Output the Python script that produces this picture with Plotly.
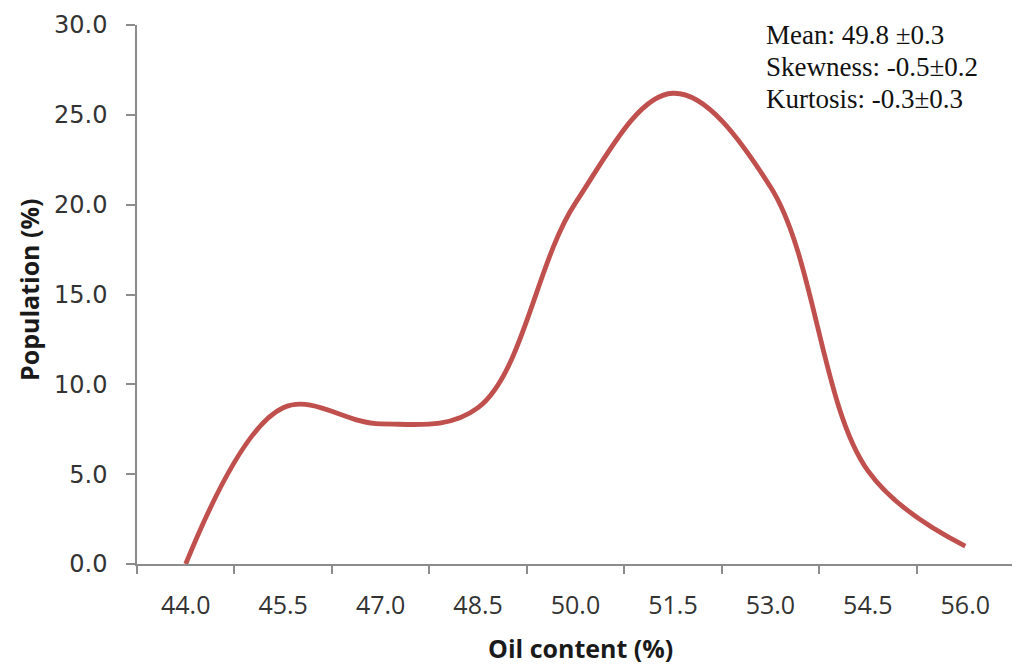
import plotly.graph_objects as go

categories = ["44.0", "45.5", "47.0", "48.5", "50.0", "51.5", "53.0", "54.5", "56.0"]
population = [0.0, 8.7, 7.8, 8.7, 20.1, 26.2, 21.0, 5.2, 1.0]
y_ticks = [0, 5, 10, 15, 20, 25, 30]
y_ticktext = ["0.0", "5.0", "10.0", "15.0", "20.0", "25.0", "30.0"]
stats_lines = ["Mean: 49.8 ±0.3", "Skewness: -0.5±0.2", "Kurtosis: -0.3±0.3"]

OFF = 8  # page body margin
W, H = 1020 - OFF, 664 - OFF
L, R, T, B = 137 - OFF, 6, 25 - OFF, 100
PW, PH = W - L - R, H - T - B

fig = go.Figure()
fig.add_trace(go.Scatter(
    x=categories, y=population, mode="lines",
    line=dict(color="#C0504D", width=4.8, shape="spline", smoothing=1.05),
    showlegend=False,
))

fig.update_layout(
    width=W, height=H,
    margin=dict(l=L, r=R, t=T, b=B),
    paper_bgcolor="white", plot_bgcolor="white",
    xaxis=dict(
        type="category", tickson="boundaries", ticks="outside", ticklen=8,
        tickcolor="#8c8c8c", tickwidth=1.5, showline=True, linecolor="#8c8c8c", linewidth=1.5,
        showgrid=False, automargin=False,
        tickfont=dict(family="Open Sans", size=25, color="#333333"), ticklabelstandoff=18,
        range=[-0.5, 8.5],
    ),
    yaxis=dict(
        range=[0, 30], tickvals=y_ticks, ticktext=y_ticktext,
        ticks="outside", ticklen=9, tickcolor="#8c8c8c", tickwidth=1.5,
        showline=True, linecolor="#8c8c8c", linewidth=1.5,
        showgrid=False, zeroline=False, automargin=False,
        tickfont=dict(family="DejaVu Sans", size=24, color="#333333"), ticklabelstandoff=14,
    ),
)

def px_x(px):
    return (px - OFF - L) / PW

def px_y(py):
    return 1 - (py - OFF - T) / PH

# axis titles
fig.add_annotation(
    x=px_x(580), y=px_y(648), xref="paper", yref="paper", showarrow=False,
    text="<b>Oil content (%)</b>", xanchor="center", yanchor="middle",
    font=dict(family="Open Sans", size=25, color="#1a1a1a"),
)
fig.add_annotation(
    x=px_x(29), y=px_y(290), xref="paper", yref="paper", showarrow=False,
    text="<b>Population (%)</b>", textangle=-90, xanchor="center", yanchor="middle",
    font=dict(family="Open Sans", size=25, color="#1a1a1a"),
)

# statistics text block
line_tops = [18, 50, 82]
for txt, ty in zip(stats_lines, line_tops):
    fig.add_annotation(
        x=px_x(764), y=px_y(ty), xref="paper", yref="paper", showarrow=False,
        text=txt, xanchor="left", yanchor="top", align="left",
        font=dict(family="Liberation Serif", size=27, color="#111111"),
    )

fig.write_html("out.html")
